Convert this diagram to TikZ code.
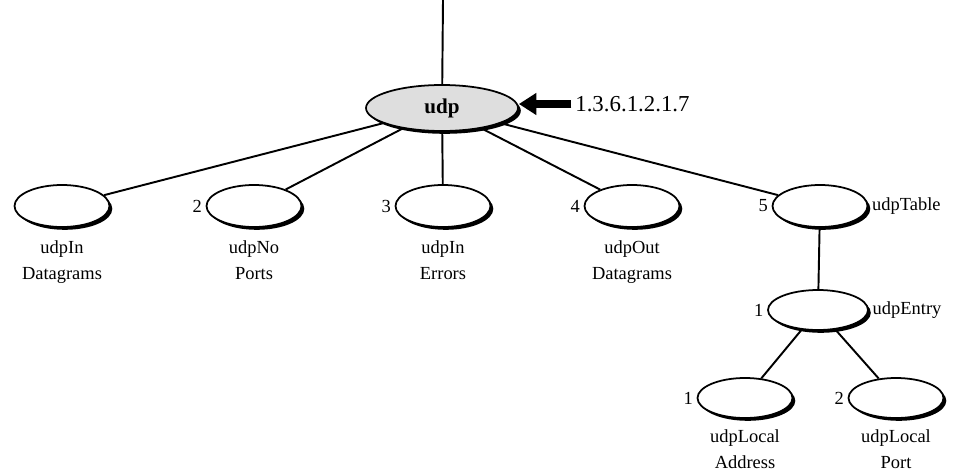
\documentclass[tikz,border=0pt]{standalone}
\usepackage{fontspec}
\setmainfont{Liberation Serif}
\usetikzlibrary{arrows.meta,positioning,shapes.geometric,shadows}

\tikzset{
  leaf/.style={ellipse,draw,line width=1pt,fill=white,inner sep=0pt,minimum width=1.9cm,minimum height=0.84cm,
    drop shadow={shadow xshift=1.6pt,shadow yshift=-1.6pt,opacity=1,fill=black}},
  rootnode/.style={leaf,fill=black!13,minimum width=3.04cm,minimum height=0.92cm,font=\fontsize{12}{14}\selectfont\bfseries},
  leafname/.style={align=center,inner sep=0pt,font=\fontsize{10.5}{15}\selectfont},
  num/.style={inner sep=2pt,font=\fontsize{10.5}{12}\selectfont},
  conn/.style={line width=1.1pt},
}

\begin{document}
\begin{tikzpicture}[x=0.02cm,y=-0.02cm,>=Latex]
    \useasboundingbox (0,0) rectangle (963,470);
    \coordinate (top) at (443,0);
    \node[rootnode] (udp) at (442,108) {udp};
    \node[right,inner sep=0pt,font=\fontsize{13}{15}\selectfont] (oid) at (575,104) {1.3.6.1.2.1.7};
    \draw[line width=5pt,-{Triangle[length=10pt,width=12pt]}] (oid.west) ++(-2pt,0) -- (oid.west -| udp.east);
    \node[leaf] (inDg) at (62,206) {};
    \node[leaf,label={[num]left:2}] (noPorts) at (254,206) {};
    \node[leaf,label={[num]left:3}] (inErr) at (443,206) {};
    \node[leaf,label={[num]left:4}] (outDg) at (632,206) {};
    \node[leaf,label={[num]left:5},label={[num]right:udpTable}] (table) at (820,206) {};
    \node[leaf,minimum width=2cm,minimum height=0.8cm,label={[num]left:1},label={[num]right:udpEntry}] (entry) at (818,310) {};
    \node[leaf,minimum height=0.8cm,label={[num]left:1}] (locAddr) at (745,398) {};
    \node[leaf,minimum height=0.8cm,label={[num]left:2}] (locPort) at (896,398) {};
    \node[leafname,below=7pt of inDg] (inDgName) {udpIn\\Datagrams};
    \node[leafname,below=7pt of noPorts] (noPortsName) {udpNo\\Ports};
    \node[leafname,below=7pt of inErr] (inErrName) {udpIn\\Errors};
    \node[leafname,below=7pt of outDg] (outDgName) {udpOut\\Datagrams};
    \node[leafname,below=6pt of locAddr] (locAddrName) {udpLocal\\Address};
    \node[leafname,below=6pt of locPort] (locPortName) {udpLocal\\Port};
    \draw[conn] (top) -- (udp);
    \draw[conn] (udp) -- (inDg);
    \draw[conn] (udp) -- (noPorts);
    \draw[conn] (udp) -- (inErr);
    \draw[conn] (udp) -- (outDg);
    \draw[conn] (udp) -- (table);
    \draw[conn] (table) -- (entry);
    \draw[conn] (entry) -- (locAddr);
    \draw[conn] (entry) -- (locPort);
\end{tikzpicture}
\end{document}
